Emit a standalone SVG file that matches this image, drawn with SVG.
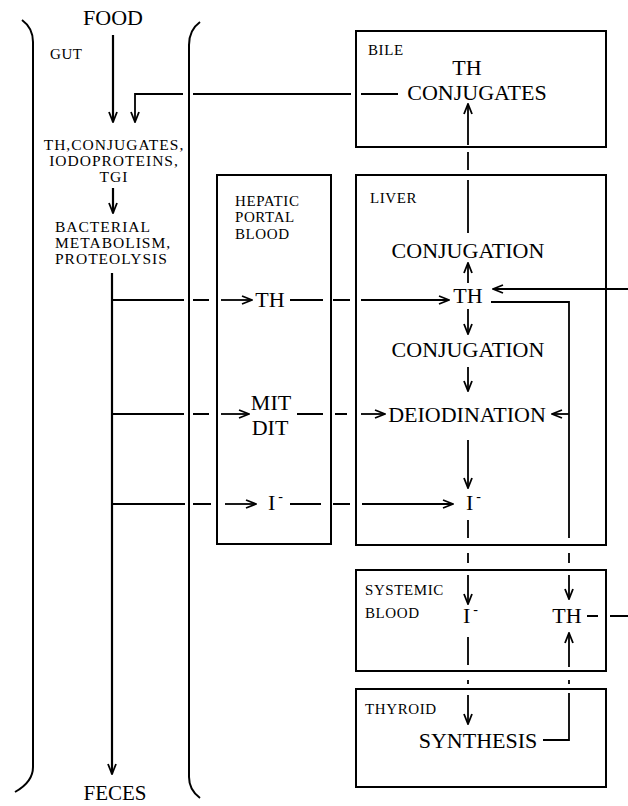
<svg xmlns="http://www.w3.org/2000/svg" width="628" height="806" viewBox="0 0 628 806" font-family="'Liberation Serif', 'DejaVu Serif', serif">
<defs>
<marker id="ah" viewBox="0 0 12 10" refX="11" refY="5" markerWidth="12" markerHeight="10" markerUnits="userSpaceOnUse" orient="auto">
<path d="M1,1 L11,5 L1,9" fill="none" stroke="#000" stroke-width="1.8"/>
</marker>
</defs>
<style>
text{font-family:'Liberation Serif','DejaVu Serif',serif;fill:#000}
.sm{font-size:15px;letter-spacing:0.6px}
.md{font-size:15.5px;letter-spacing:1px}
.lg{font-size:22px}
.box{fill:none;stroke:#000;stroke-width:2}
.wall{fill:none;stroke:#000;stroke-width:2}
.c{fill:none;stroke:#000;stroke-width:1.8}
.a{fill:none;stroke:#000;stroke-width:1.8;marker-end:url(#ah)}
.t{fill:none;stroke:#000;stroke-width:2.2;marker-end:url(#ah)}
</style>
<rect width="628" height="806" fill="#fff"/>

<g id="gut">
<path class="wall" d="M22,20 Q33,28 33,42 V767 Q33,782 15,792"/>
<path class="wall" d="M200,22 Q189,30 189,45 V777 Q189,790 200,798"/>
<text class="lg" x="113" y="25" text-anchor="middle">FOOD</text>
<text class="sm" x="50" y="59">GUT</text>
<text class="md" x="114" y="150" text-anchor="middle">TH,CONJUGATES,</text>
<text class="md" x="114" y="166" text-anchor="middle">IODOPROTEINS,</text>
<text class="md" x="114" y="182" text-anchor="middle">TGI</text>
<text class="md" x="55" y="232">BACTERIAL</text>
<text class="md" x="55" y="248">METABOLISM,</text>
<text class="md" x="55" y="264">PROTEOLYSIS</text>
<text class="lg" x="115" y="800" font-size="21" text-anchor="middle" style="font-size:21px">FECES</text>
</g>

<g id="portal">
<rect class="box" x="217" y="175" width="114" height="369"/>
<text class="sm" x="235" y="206">HEPATIC</text>
<text class="sm" x="235" y="222">PORTAL</text>
<text class="sm" x="235" y="239">BLOOD</text>
<text class="lg" x="270" y="307" text-anchor="middle">TH</text>
<text class="lg" x="271" y="410" text-anchor="middle">MIT</text>
<text class="lg" x="270" y="435" text-anchor="middle">DIT</text>
<text class="lg" x="268" y="510">I<tspan font-size="14" dx="3" dy="-9">-</tspan></text>
</g>

<g id="bile">
<rect class="box" x="356" y="31" width="250" height="116"/>
<text class="sm" x="368" y="55">BILE</text>
<text class="lg" x="467" y="75" text-anchor="middle">TH</text>
<text class="lg" x="477" y="100" text-anchor="middle">CONJUGATES</text>
</g>

<g id="liver">
<rect class="box" x="356" y="175" width="250" height="370"/>
<text class="sm" x="370" y="203">LIVER</text>
<text class="lg" x="468" y="258" text-anchor="middle">CONJUGATION</text>
<text class="lg" x="468" y="303" text-anchor="middle">TH</text>
<text class="lg" x="468" y="357" text-anchor="middle">CONJUGATION</text>
<text class="lg" x="467" y="422" text-anchor="middle">DEIODINATION</text>
<text class="lg" x="466" y="510">I<tspan font-size="14" dx="3" dy="-9">-</tspan></text>
</g>

<g id="systemic">
<rect class="box" x="356" y="570" width="250" height="101"/>
<text class="sm" x="365" y="595">SYSTEMIC</text>
<text class="sm" x="365" y="618">BLOOD</text>
<text class="lg" x="463" y="623">I<tspan font-size="14" dx="3" dy="-9">-</tspan></text>
<text class="lg" x="567" y="623" text-anchor="middle">TH</text>
</g>

<g id="thyroid">
<rect class="box" x="356" y="689" width="250" height="98"/>
<text class="sm" x="365" y="714">THYROID</text>
<text class="lg" x="478" y="748" text-anchor="middle">SYNTHESIS</text>
</g>

<g id="connectors">
<path class="t" d="M113,35 V122"/>
<path class="t" d="M113,188 V213"/>
<path class="t" d="M112,273 V774"/>
<path class="c" d="M398,94 H361 M351,94 H193"/>
<path class="a" d="M183,94 H135 V122"/>
<path class="c" d="M112,300 H184 M193,300 H209"/>
<path class="a" d="M221,300 H252"/>
<path class="c" d="M290,300 H323 M333,300 H350"/>
<path class="a" d="M361,300 H449"/>
<path class="c" d="M112,414 H184 M193,414 H209"/>
<path class="a" d="M221,414 H249"/>
<path class="c" d="M297,414 H323 M335,414 H347"/>
<path class="a" d="M361,414 H385"/>
<path class="c" d="M112,504 H185 M193,504 H211"/>
<path class="a" d="M225,504 H256"/>
<path class="c" d="M290,504 H321 M333,504 H350"/>
<path class="a" d="M362,504 H453"/>
<path class="a" d="M468,233 V180 M468,170 V152 M468,145 V104"/>
<path class="a" d="M468,283 V263"/>
<path class="a" d="M468,309 V334"/>
<path class="a" d="M468,367 V391"/>
<path class="a" d="M468,440 V488"/>
<path class="c" d="M468,520 V538 M468,553 V563"/>
<path class="a" d="M468,575 V604"/>
<path class="c" d="M468,637 V665 M468,680 V684"/>
<path class="a" d="M468,695 V724"/>
<path class="a" d="M628,289 H493"/>
<path class="c" d="M491,302 H569 V538 M569,553 V563"/>
<path class="a" d="M569,414 H552"/>
<path class="a" d="M569,575 V599"/>
<path class="c" d="M587,616 H598 M610,616 H628"/>
<path class="c" d="M543,740 H569 V693 M569,684 V680"/>
<path class="a" d="M569,667 V633"/>
</g>
</svg>
